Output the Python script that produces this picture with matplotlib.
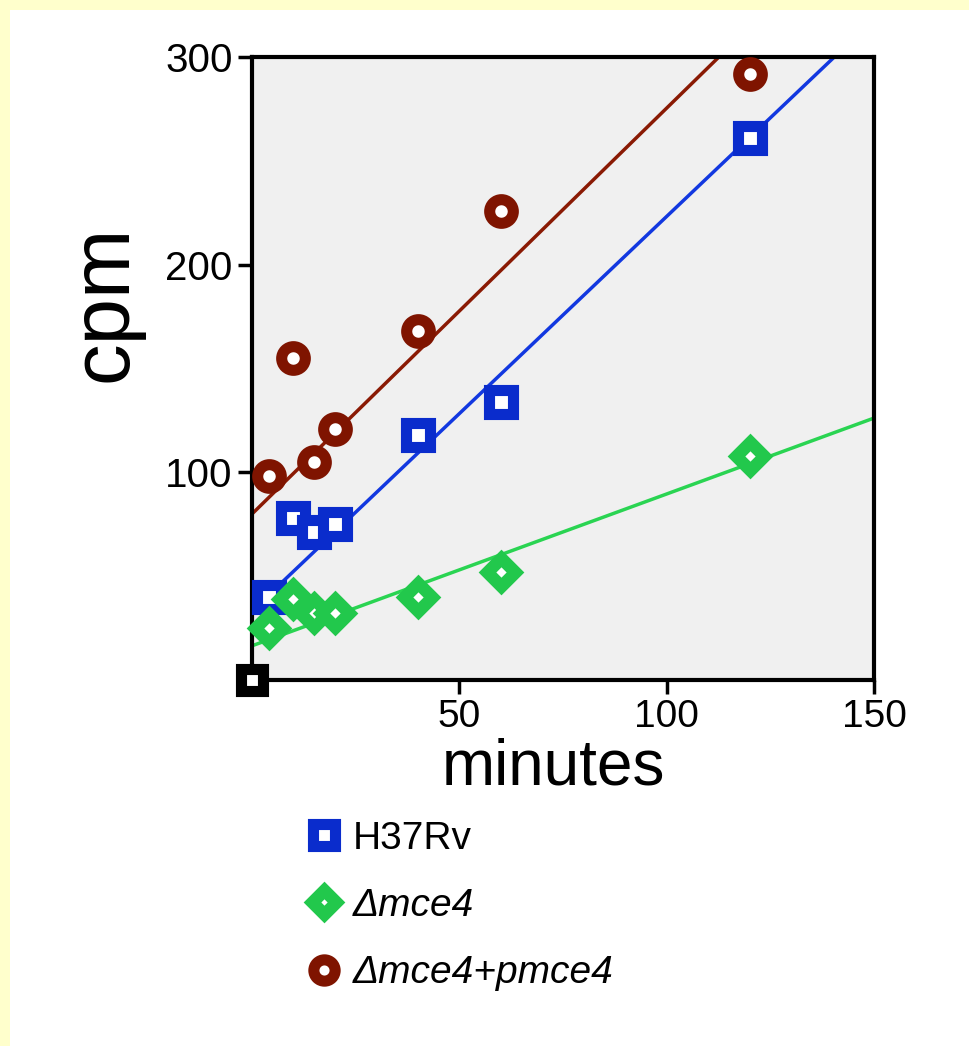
import numpy as np
import matplotlib.pyplot as plt
from matplotlib.lines import Line2D
from matplotlib.patches import Rectangle

# ==============================
# Data
# ==============================
minutes = [4, 10, 15, 20, 40, 60, 120]
cpm_h37rv = [40, 78, 71, 75, 118, 134, 261]
cpm_mce4 = [25, 39, 32, 32, 40, 52, 108]
cpm_comp = [98, 155, 105, 121, 168, 226, 292]
origin = [0], [0]  # shared zero point

series = [
    ("H37Rv", cpm_h37rv, 's', '#0a2ccc', '#1238e0', 'normal'),
    ("\u0394mce4", cpm_mce4, 'D', '#22c84c', '#2ad452', 'italic'),
    ("\u0394mce4+pmce4", cpm_comp, 'o', '#7f1400', '#8a1a04', 'italic'),
]

# ==============================
# Figure
# ==============================
plt.rcParams['font.family'] = ['Liberation Sans', 'DejaVu Sans']
fig = plt.figure(figsize=(9.69, 10.46), dpi=100, facecolor='#ffffcc')
fig.patches.append(Rectangle((10 / 969, 0), 1, 1 - 10 / 1046, transform=fig.transFigure,
                             facecolor='white', edgecolor='none', zorder=-10))

ax = fig.add_axes([0.260, 0.350, 0.642, 0.5955])
ax.set_facecolor('#f0f0f0')

x_fit = np.linspace(0, 150, 200)
handles = []
for label, y, marker, mcol, lcol, style in series:
    # regression line through the data incl. the zero point
    xs = np.array(origin[0] + minutes)
    ys = np.array(origin[1] + y)
    slope, intercept = np.polyfit(xs, ys, 1)
    ax.plot(x_fit, intercept + slope * x_fit, color=lcol, lw=2.5, zorder=2)
    ms, mew = (14, 9) if marker == 'D' else (17, 8)
    ax.plot(minutes, y, ls='none', marker=marker, ms=ms, mew=mew,
            mfc='white', mec=mcol, zorder=3, clip_on=False)
    handles.append(Line2D([], [], ls='none', marker=marker, ms=ms * 0.9, mew=mew,
                          mfc='white', mec=mcol, label=label))

# zero point
ax.plot(origin[0], origin[1], ls='none', marker='s', ms=16, mew=8, mfc='white',
        mec='black', zorder=5, clip_on=False)

ax.set_xlim(0, 150)
ax.set_ylim(0, 300)
ax.set_xticks([50, 100, 150])
ax.set_yticks([100, 200, 300])
for s in ax.spines.values():
    s.set_linewidth(3)
ax.tick_params(axis='both', direction='out', width=2.5, labelsize=29, colors='black')
ax.tick_params(axis='y', length=10, pad=4)
ax.tick_params(axis='x', length=10, pad=4, labelsize=28)

ax.set_xlabel("minutes", fontsize=46)
ax.xaxis.set_label_coords(0.484, -0.093)
ax.set_ylabel("cpm", fontsize=60)
ax.yaxis.set_label_coords(-0.175, 0.605)

leg = fig.legend(handles=handles, loc='upper left', bbox_to_anchor=(0.300, 0.230),
                 frameon=False, fontsize=28, handlelength=0.9, handletextpad=0.3,
                 labelspacing=0.8, borderaxespad=0)
for txt, (_, _, _, _, _, style) in zip(leg.get_texts(), series):
    txt.set_style(style)

fig.savefig("out.png", dpi=100, facecolor=fig.get_facecolor())
